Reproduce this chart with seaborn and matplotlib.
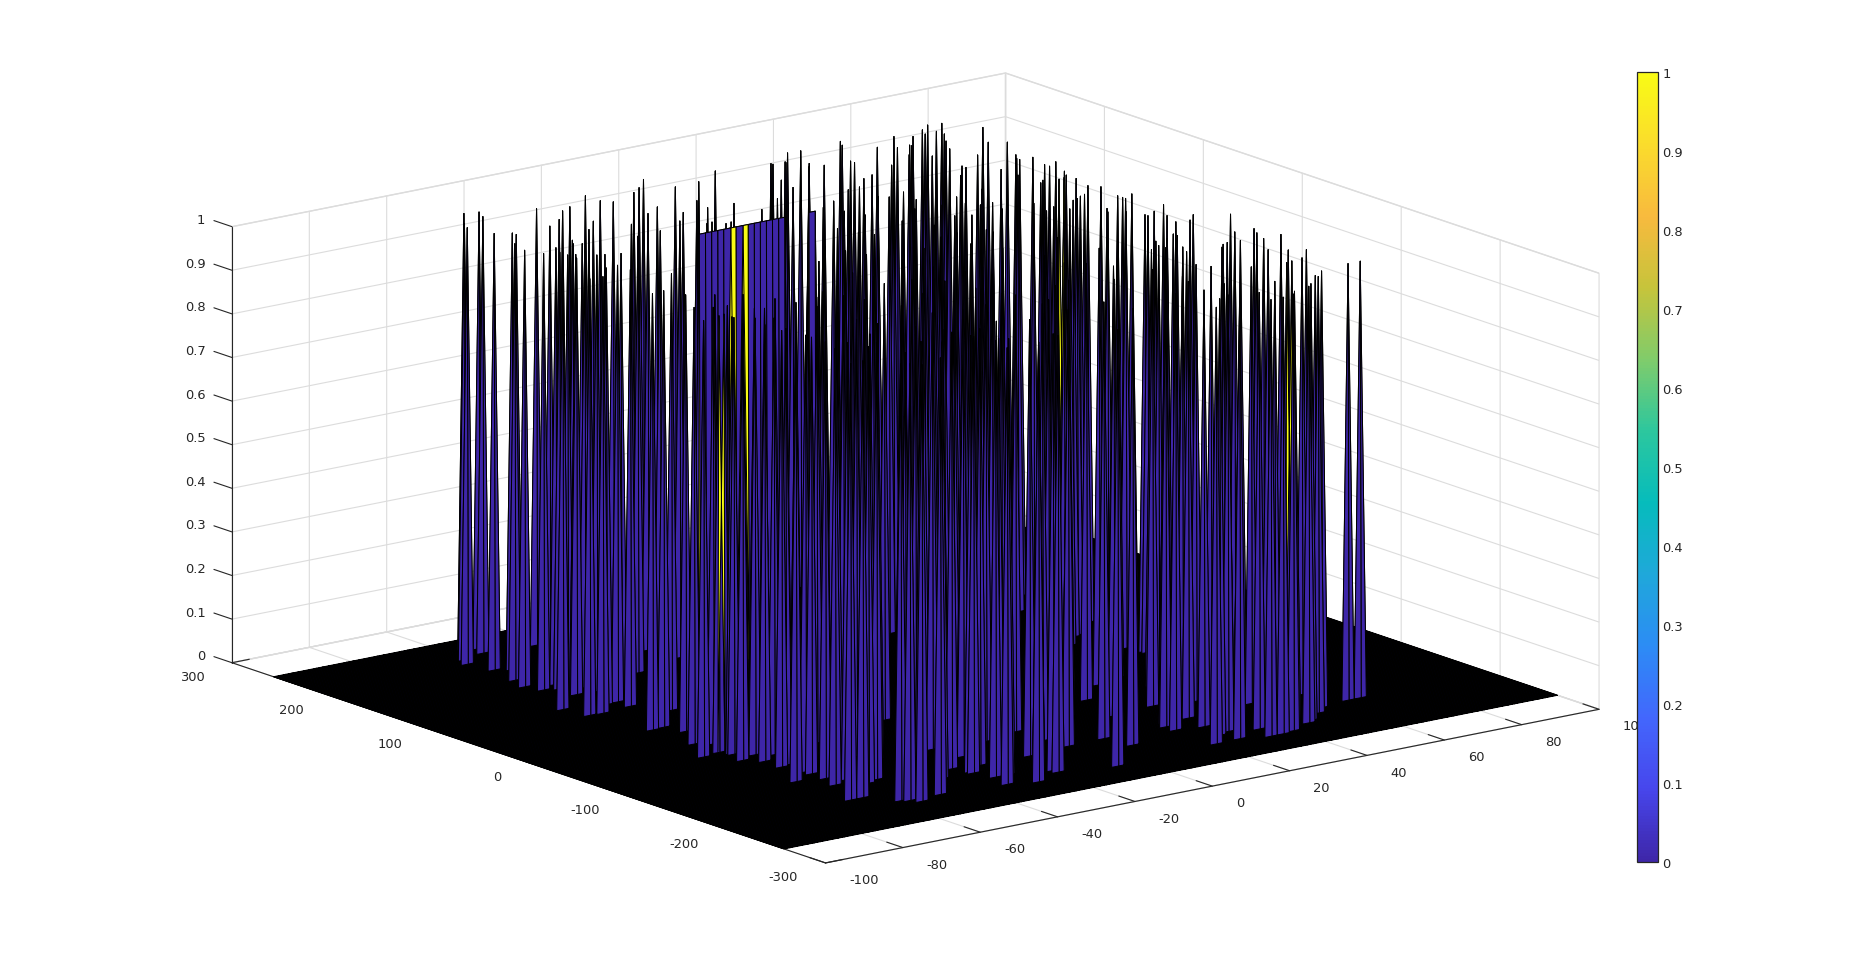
#Import necessary packages
import numpy as np
import seaborn as sns
import matplotlib
matplotlib.use("Agg")
import matplotlib.pyplot as plt
from matplotlib.transforms import ScaledTranslation

#Grid of the map
n_doppler = 128
n_range = 516
doppler_min, doppler_max = -100, 100
range_min, range_max = -258, 258

#Detections, doppler and range of each peak
peak_doppler = [
    -56.3, -61.4, -62.8, -53.2, -55, -61, -57.9, -58, -62.7, -64.3, -42.1, -62.8, -48.6, -58.1, -43.9, -39, -36,
    -59.1, -59.7, -51.7, -52.8, -28.1, -56.8, -51.5, -43.8, -39.1, -54, -55, -28.2, -53.4, -59.3, -26.5, -56.3,
    -50.2, -18.7, -34.2, -39, -15.4, -10.5, -26.5, -64.3, -21.8, -32.9, -60.8, -51.5, -9.2, -24.8, -20.3, -59.3,
    -12.5, -2.8, -13.9, 5.1, -7.4, -5.8, 17.6, 2, 11.5, 20.5, 9.9, 22.4, 25.8, 9.7, 17.9, 21.1, 25.7, -48.2, 29.7,
    -21.7, 25.7, -39, -31.1,
    25.8, 49.5, 54, 19.8, 58.8, 57.4, 62.3, 47.8, 60.8, 65.2, 60.4, 57.3, 54.1, 14.6, 43.3, 47.8, 48, -32.3, 55.7,
    31.9, 70.1, 63.4, 34.8, -29.8, 52.6, 66.6, 61.8, 60.4, 60.5, 41.2, 63.7, 52.6, 54.3, 62.1, 62.1, 64.1, 65.2,
    62.1, 60.4, 44.6, 49.6, 60.6, 52.6, 54, 58.8, 60.4, 51, 49.7, 24.2, 58.8, 58.7, 58.8, 62, 54.3, 38.6, 57.4,
    43.3, 41.9, 62.1, 46.3, 49.4, 55.7, 49.8, 44.9, 42.8, 58.9, 62.2, 38.4, 27.3, 40.1, 21.3, 25.9, 52.5, 54.1,
    68.4, 60.5, 57.6, 46.3, 65.3, 63.5, 63.8, 62, 57.4, 33.7, 43, 66.9, 60.3, 42, 58.8, 63.6, 47.9, 52.8, 52.7,
    55.7, 63.8, 67,
    -68.7, -59.1, -66.8, -64.3, -55.6, -56.1, -68.5, -63.4, -60.4, -63.8, -59, -62.5, -60.6, -56.5, -52, -65.3,
    -59.8, -57.5, -60.6, -65.1, -62.2, -50.5, -57.8, -55.5,
    -40.2, -33.4, -21.7, -32.2, -27.3, 21.7, -30.5, -27.7, -5.7, 53.1, -15.3, -24.4, -3, -18.4, -17.7, 10.5, 51.3,
    21.1, 30.4, 5.8, -5.5, 52.6, 7.1, 54, 29.1, 22.7, 21.4, 28.9, 27.3, 21, 29, 27.6, 46.2, 35.3, 33.9, 36.8, 40.3,
    45.7, 53.6,
    18.1, 21.1, 25.8, 28.9, 24.2, 25.8, 40.1, 38.5, 32.1, 32.1, 43.1, 36.6, 50.9, 46.2, 44.9, 49.2, 54.3, 59, 57.2,
    62.1,
    -48.9, -55, -52.1, -47.6, -33.5, -32, -26,
]
peak_range = [
    237.6, 219.2, 209.5, 235.3, 224.5, 188.4, 183.3, 179.3, 162.1, 145.9, 219.8, 132.4, 181.8, 138.5, 191, 205.7, 210.8,
    129, 120.4, 146.8, 139.5, 225.9, 118.6, 136.5, 160.8, 175, 122.1, 109.5, 210.8, 107.7, 81.5, 204.1, 82.6,
    103.5, 214.3, 154.8, 129.9, 220.5, 234.6, 169.1, 16.1, 178.2, 131.7, 17.9, 46.4, 209.3, 142.3, 157.7, 1.5,
    175, 209.5, 158, 224.4, 155.4, 133.5, 214.9, 148.6, 181.8, 213.1, 163.6, 196.9, 194.1, 122.9, 139, 139.8, 154, -141.3, 157.9,
    -52.1, 114.1, -52.4, -40.3,
    114.2, 200, 214.6, 78.1, 223.6, 214.7, 230.7, 170.8, 216.2, 229, 207.9, 194.1, 177.6, 16.9, 124.2, 140.7, 136.4, -182.3, 155.9,
    60.4, 205.7, 176.1, 60.5, -198.3, 119.8, 168.7, 141.8, 134.7, 131.7, 44, 130.3, 79.8, 83.9, 113, 107.9, 111.4, 113.9,
    93, 84.8, 19.2, 34.5, 74.4, 39.6, 41.5, 56.4, 49.7, 6.5, -0.4, -105.1, 26.4, 21.7, 18.4, 24.3, -22.1, -87.2, -16.3,
    -74, -82.6, -7.2, -72.7, -67, -44.6, -70.9, -94.8, -104.9, -46.7, -37.3, -132.6, -184.2, -141.6, -220.5, -206, -105, -102.9,
    -50.6, -85.4, -103.7, -157.8, -86.4, -95.4, -96.1, -108.9, -131.3, -226.8, -194.3, -108.2, -140.1, -219.9, -159.5, -145.4, -211.7, -197.7, -200.5,
    -192.3, -188, -188.3,
    89, 112.2, 67.6, 66.9, 82.9, 70.1, -53.3, -25.2, -32.1, -74.4, -68.3, -57.2, -101.7, -76, -53.2, -135,
    -125.4, -126.7, -155.7, -189.5, -189.9, -160.9, -210.2, -213.2,
    -183.5, -168.9, -130.7, -181.7, -173, 11.5, -200.7, -202.1, -122.7, 102.4, -173.6, -219.6, -143.9, -210.4, -215.1, -114.8, 36.5,
    -89.3, -65.5, -169.1, -226.1, -6.5, -192.1, -19.7, -125.6, -162.9, -179.8, -162.2, -183.5, -221, -202.3, -220.1, -156.8, -208.9, -226.7, -227.3, -225.3,
    -215.8, -198.8,
    216.9, 215, 231.2, 230, 202.9, 194.1, 233.3, 225.2, 191.5, 187.8, 207.5, 169.2, 221.6, 200.3, 182.3, 198.3, 215.7, 224.8, 213.9,
    230.8,
    -160.4, -219.3, -218.9, -213.1, -168.7, -219.1, -225.9,
]

#Peaks in the middle of the block, hidden behind the others so these are estimates
hidden_doppler = [
    -54.2, -58, -61.7, -49, -54, -60.4, -46.3, -59, -45, -59, -36, -43.7, -22,
    -59, -34.7, -13, 6.2, -43.6, -21.9, -2.7, -56.4, -33.4, -11.7, 7.5, -43.6, -20.6, -1.4,
    -55, -32, -10.3, 8.8, -42.2, -19.2, 1.2, 19.1, 21.9, 27, -51.6, -28.6, -6.9, 12.2, -37.5, -14.6, 7.2, 23.8,
    -42.6, -19.6, 2.1, 20, -27.3, -5.6, 14.8, 30.2, -33.7, -10.7, 11, 26.4, -18.3, 3.4, 22.6, 31.5,
    -25.9, -2.9, 17.5, 30.3, -32.3, -9.3, 12.4, 26.5, -15.7, 6, 26.4, 40.5, -22, 0.9, 21.4, 35.4, -6.7, 15, 34.2,
    -4.8, 18.2, 39.9, 5.4, 28.4, 43.8, -4.7, 18.3, 38.7, 49.7, 18.4, 36.3, 51.6, 21, 41.5, 56.8, 31.4, 51.8, 34, 51.9,
]
hidden_range = [
    -10, -35, -60, -20, -50, -85, -40, -100, -55, -120, -30, -70, 15,
    -140, -45, 40, 115, -90, -5, 70, -150, -60, 25, 100, -110, -20, 55,
    -165, -75, 10, 85, -125, -35, 45, 115, 110, 130, -190, -100, -15, 60, -145, -55, 30, 95,
    -175, -85, 0, 70, -125, -40, 40, 100, -160, -70, 15, 75, -110, -25, 50, 85,
    -150, -60, 20, 70, -185, -95, -10, 45, -130, -45, 35, 90, -165, -75, 5, 60, -115, -30, 45,
    -150, -60, 25, -120, -30, 30, -170, -80, 0, 35, -130, -60, 0, -170, -90, -30, -150, -70, -180, -110,
]

#The solid ridge at the back of the map
ridge_doppler = [-27.4, -25.8, -24.2, -22.7, -21.1, -19.5, -17.9, -16.4, -14.8, -13.2, -11.6, -10.1, -8.5, -6.9, -5.3, 1.0, 2.5]
ridge_range = 111

#Peaks with a second peak on the next diagonal cell, these show the yellow faces
pair_doppler = [-19.5, -15.9, -63.5, 55.1, 58.2, -21.4, -17.4]
pair_range = [110, 110, -50.9, -163.1, 80, 127.4, 121.1]

#Axis ticks
doppler_ticks = [-100, -80, -60, -40, -20, 0, 20, 40, 60, 80, 100]
range_ticks = [-300, -200, -100, 0, 100, 200, 300]
level_ticks = [0, 0.1, 0.2, 0.3, 0.4, 0.5, 0.6, 0.7, 0.8, 0.9, 1]
level_labels = ["0", "0.1", "0.2", "0.3", "0.4", "0.5", "0.6", "0.7", "0.8", "0.9", "1"]

#Parula colours
parula_colors = ["#3e26a8", "#4746ec", "#4367fd", "#2c8cf5", "#1fa8da", "#06bcbc",
                 "#2cc79e", "#80cc6b", "#c6c43b", "#f8ba3e", "#fadc2c", "#f9fb15"]

sns.set_style("white")
plt.rcParams["font.family"] = ["DejaVu Sans"]
plt.rcParams["font.size"] = 9.4
plt.rcParams["axes.unicode_minus"] = False
parula = sns.blend_palette(parula_colors, n_colors=256, as_cmap=True)

#Build the map
doppler = np.linspace(doppler_min, doppler_max, n_doppler)
ranges = np.linspace(range_min, range_max, n_range)
X, Y = np.meshgrid(doppler, ranges)
Z = np.zeros_like(X)


def cell_of(d, r):
    return np.abs(ranges - r).argmin(), np.abs(doppler - d).argmin()


for d in ridge_doppler:
    Z[cell_of(d, ridge_range)] = 1
#Two readings on touching cells are the same peak
for d, r in zip(peak_doppler + hidden_doppler, peak_range + hidden_range):
    i, j = cell_of(d, r)
    if not Z[i - 1:i + 2, j - 1:j + 2].any():
        Z[i, j] = 1
for d, r in zip(pair_doppler, pair_range):
    i, j = cell_of(d, r)
    Z[i, j] = 1
    Z[i + 1, j + 1] = 1

fig = plt.figure(figsize=(18.53, 9.70), dpi=100, facecolor="white")
side = 939
left = 915.5 - 0.5135 * side
bottom = 501 - 0.5135 * side
ax = fig.add_axes([left / 1853, bottom / 970, side / 1853, side / 970], projection="3d")
ax.set_proj_type("ortho")
ax.view_init(elev=15, azim=-127.5)
ax.set_box_aspect((1, 1, 0.463), zoom=1.5)

surf = ax.plot_surface(X, Y, Z, rstride=1, cstride=1, facecolors=parula(Z), shade=False, linewidth=0.72)
surf.set_edgecolor("k")
surf.set_clip_on(False)

ax.set_xlim(-100, 100)
ax.set_ylim(-300, 300)
ax.set_zlim(0, 1)
ax.set_xticks(doppler_ticks)
ax.set_yticks(range_ticks)
ax.set_zticks(level_ticks)
ax.set_zticklabels(level_labels)
ax.zaxis.set_ticks_position("upper")
ax.zaxis._get_tickdir = lambda position: 1

#Panes, grid and ticks in the light style of the original
for axis, out in ((ax.xaxis, 0.34), (ax.yaxis, 0.28), (ax.zaxis, 0.38)):
    axis.set_pane_color((1, 1, 1, 1))
    axis.pane.set_edgecolor("#dcdcdc")
    axis.line.set_color("#262626")
    axis.line.set_linewidth(0.8)
    axis._axinfo["grid"].update(color="#dcdcdc", linewidth=0.8)
    axis._axinfo["tick"].update(outward_factor=out, inward_factor=0)
    axis._axinfo["tick"]["linewidth"] = {True: 0.8, False: 0.8}
ax.tick_params(axis="both", colors="#262626", labelsize=9.4)
ax.tick_params(axis="x", pad=4)
ax.tick_params(axis="y", pad=4)
ax.tick_params(axis="z", pad=4)


#Tick labels sit beside the tick ends, offsets in pixels
#Axis3D puts transData back on every draw, so the transform is locked afterwards
def place_labels(axis, ha, dx, dy):
    offset = ScaledTranslation(dx / 100, dy / 100, fig.dpi_scale_trans)
    for tick in axis.get_major_ticks():
        tick.label1.set_ha(ha)
        tick.label1.set_va("center")
        tick.label1.set_transform(ax.transData + offset)
        tick.label1.set_transform = lambda t: None


place_labels(ax.xaxis, "left", 3.5, 5)
place_labels(ax.yaxis, "right", -1, 6.5)
place_labels(ax.zaxis, "right", 20, 5.5)

#Colour bar
cax = fig.add_axes([1637 / 1853, 107 / 970, 21 / 1853, 790 / 970])
sm = plt.cm.ScalarMappable(cmap=parula, norm=plt.Normalize(0, 1))
cbar = fig.colorbar(sm, cax=cax, ticks=level_ticks)
cbar.ax.set_yticklabels(level_labels)
cbar.ax.tick_params(direction="in", length=5, width=0.7, color="#262626", labelsize=9.4, pad=3)
cbar.outline.set_edgecolor("#262626")
cbar.outline.set_linewidth(0.9)

fig.savefig("out.png", dpi=100, facecolor="white")
